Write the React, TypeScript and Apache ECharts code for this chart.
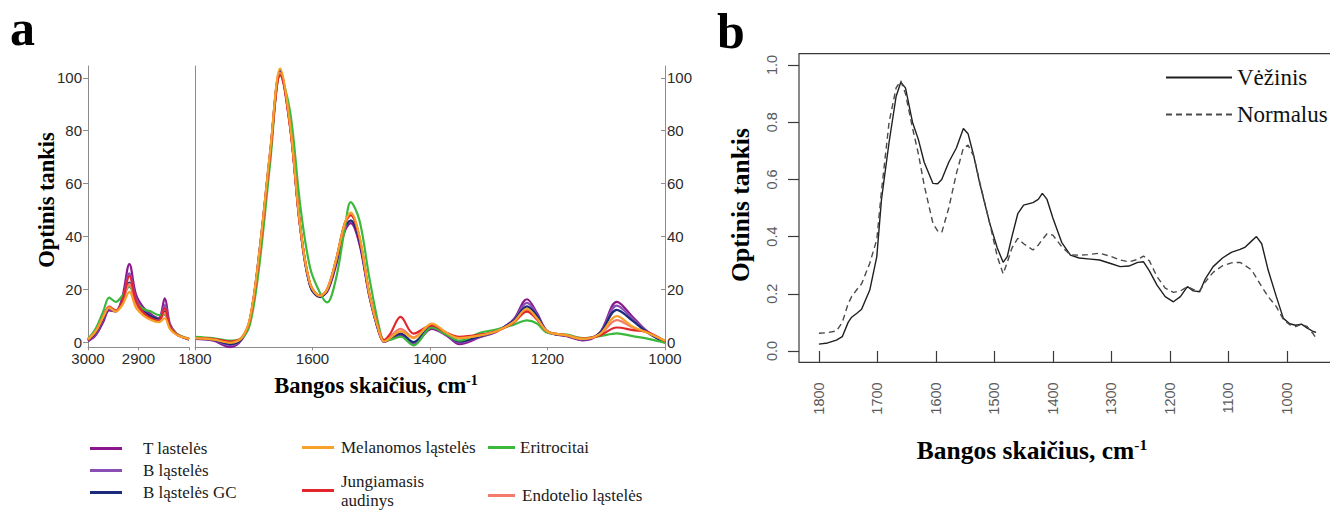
import React, { useEffect, useRef } from 'react';
import * as echarts from 'echarts';

// ---------- Panel a data ----------
const CH_WAVENUMBERS = [3000, 2985, 2970, 2958, 2945, 2932, 2918, 2905, 2890, 2875, 2860, 2848, 2838, 2825, 2812, 2800];
const FP_WAVENUMBERS = [1800, 1770, 1740, 1720, 1706, 1690, 1672, 1655, 1638, 1621, 1604, 1587, 1575, 1560, 1545, 1535, 1520, 1503, 1486, 1478, 1468, 1450, 1428, 1397, 1372, 1350, 1315, 1286, 1258, 1235, 1218, 1200, 1167, 1140, 1111, 1082, 1055, 1030, 1000];

const T_CH = [0.3, 2.5, 7.5, 12, 11.5, 17, 29.5, 18, 13, 10.5, 9, 16.5, 7, 3.2, 1.8, 1];
const B_CH = [0.5, 3, 8.5, 12.5, 11.8, 16, 26, 16.5, 12, 10, 8.8, 14, 6.5, 3, 1.8, 1];
const BGC_CH = [0.8, 3.5, 9, 13, 12, 15.5, 22.5, 15, 11.5, 9.8, 8.5, 11.5, 6, 3, 1.8, 1];
const MEL_CH = [1, 4, 9.5, 13, 11.5, 14, 19, 13, 10, 8.3, 7.5, 9, 5, 2.8, 1.8, 1.2];
const JUN_CH = [0.8, 3.8, 9.5, 13.2, 11.8, 15.5, 25, 15.5, 11, 9, 8, 12.8, 6, 3, 1.8, 1.2];
const END_CH = [0.9, 4, 9.5, 13.5, 12, 15, 22, 14.5, 10.8, 8.8, 8, 11, 5.5, 3, 1.8, 1.2];
const ERI_CH = [1.2, 5, 11.5, 16.8, 15.2, 17.5, 21, 15, 12.5, 11.5, 10.2, 10.3, 6, 3.2, 2, 1.3];

const T_FP = [1.2, 0.6, -1.9, 1.0, 8.5, 34, 71, 102, 82, 44, 21.5, 17.5, 19, 29, 42, 45, 37, 17, 3, 0, 1, 2.5, -0.8, 5, 2.5, -0.8, 1.8, 4, 8.5, 16.2, 11, 4, 2.2, 0.6, 3.5, 15.2, 9.5, 4, -0.3];
const B_FP = [1.3, 0.8, -1.2, 1.2, 8.8, 34.5, 71.5, 102.5, 82, 44, 21.5, 17.5, 19.5, 30, 43, 46, 38, 17.5, 3.2, 0.2, 1.2, 3, -0.3, 5.5, 2.8, -0.2, 2, 4.2, 8.3, 14.8, 10.5, 4, 2.3, 0.8, 3.5, 13.8, 8.8, 3.8, -0.2];
const BGC_FP = [1.4, 0.9, -0.8, 1.3, 9, 35, 72, 102.5, 81.5, 43.5, 21, 17, 19.5, 30, 43.5, 46, 38, 17.5, 3.2, 0.3, 1.3, 3.2, 0, 5.8, 3, 0.2, 2.2, 4.3, 8, 13.5, 10, 3.9, 2.4, 1, 3.4, 12.2, 8, 3.6, -0.1];
const MEL_FP = [1.5, 1.0, -0.3, 1.8, 9.5, 35, 72.5, 103.5, 82, 44, 22, 17.5, 20, 31, 45, 49, 40, 18, 3.5, 0.2, 1.5, 4, 1.5, 7, 3.5, 1.5, 2.5, 4.2, 7.5, 12.6, 9, 4, 2.5, 1.2, 3, 9.8, 5.8, 3.5, 0.5];
const JUN_FP = [1.5, 1.2, 0.2, 1.8, 9, 34, 71, 101, 81, 43.5, 22, 17.5, 20, 31, 45, 48, 39.5, 18, 3.8, 0.8, 3, 9.5, 3.2, 6.3, 3.5, 2, 2.8, 4.2, 7.3, 11.5, 8.5, 4, 2.5, 1.3, 2.5, 5.5, 4.5, 3.8, 0.3];
const END_FP = [1.5, 1.1, 0, 1.8, 9.2, 34.5, 72, 102, 81.5, 44, 22, 17.5, 20, 31, 45, 48, 39.5, 18, 3.6, 0.4, 2, 5, 1.8, 6.5, 3.5, 1.5, 2.6, 4.2, 7.4, 12, 8.8, 4, 2.5, 1.2, 2.8, 8.3, 5.5, 3.6, 0.4];
const ERI_FP = [2, 1.5, 0.5, 1.5, 7, 30, 68, 101, 87, 52, 28, 18.5, 15, 24, 43, 53, 46, 24, 5, 0.5, 0.8, 2, -1.3, 5.5, 2.8, 0.5, 3.5, 4.8, 6.5, 8.2, 7, 3.5, 2.8, 1.5, 2.2, 3.3, 2.2, 1.3, -0.3];

const A_NAMES = ['T lastelės', 'B ląstelės', 'B ląstelės GC', 'Melanomos ląstelės', 'Jungiamasis audinys', 'Eritrocitai', 'Endotelio ląstelės'];
const A_CH_DATA = [T_CH, B_CH, BGC_CH, MEL_CH, JUN_CH, ERI_CH, END_CH];
const A_FP_DATA = [T_FP, B_FP, BGC_FP, MEL_FP, JUN_FP, ERI_FP, END_FP];
const A_DRAW_ORDER = [0, 1, 2, 5, 6, 4, 3];

const A_Y_TICKS = [0, 20, 40, 60, 80, 100];
const A_CH_TICKS = [3000, 2900, 2800];
const A_CH_LABELS = [3000, 2900];
const A_FP_TICKS = [1800, 1600, 1400, 1200, 1000];

// ---------- Panel b data ----------
const B_WAVENUMBERS = [1800, 1785, 1770, 1760, 1750, 1744, 1735, 1727, 1713, 1701, 1693, 1680, 1668, 1660, 1652, 1640, 1630, 1620, 1605, 1597, 1590, 1578, 1565, 1553, 1545, 1535, 1525, 1508, 1495, 1485, 1478, 1470, 1460, 1450, 1434, 1425, 1418, 1410, 1400, 1385, 1370, 1355, 1340, 1320, 1300, 1285, 1270, 1255, 1245, 1235, 1222, 1208, 1194, 1182, 1170, 1160, 1149, 1140, 1126, 1110, 1095, 1080, 1072, 1060, 1052, 1043, 1032, 1018, 1006, 995, 985, 975, 965, 955, 950];
const VEZINIS = [0.024, 0.028, 0.038, 0.05, 0.10, 0.118, 0.132, 0.146, 0.213, 0.33, 0.53, 0.73, 0.89, 0.94, 0.92, 0.80, 0.74, 0.66, 0.586, 0.585, 0.60, 0.66, 0.71, 0.778, 0.76, 0.68, 0.586, 0.447, 0.36, 0.31, 0.33, 0.40, 0.48, 0.51, 0.519, 0.53, 0.551, 0.53, 0.465, 0.38, 0.335, 0.325, 0.322, 0.318, 0.305, 0.295, 0.297, 0.31, 0.312, 0.28, 0.23, 0.19, 0.172, 0.19, 0.225, 0.21, 0.207, 0.25, 0.295, 0.325, 0.345, 0.355, 0.362, 0.385, 0.40, 0.375, 0.283, 0.19, 0.114, 0.095, 0.09, 0.094, 0.08, 0.068, 0.065];
const NORMALUS = [0.062, 0.064, 0.07, 0.10, 0.165, 0.19, 0.215, 0.235, 0.307, 0.39, 0.56, 0.80, 0.92, 0.945, 0.90, 0.78, 0.69, 0.58, 0.446, 0.42, 0.414, 0.50, 0.62, 0.71, 0.72, 0.68, 0.59, 0.447, 0.33, 0.27, 0.31, 0.36, 0.394, 0.375, 0.353, 0.37, 0.39, 0.41, 0.405, 0.365, 0.336, 0.335, 0.337, 0.342, 0.33, 0.318, 0.312, 0.32, 0.332, 0.315, 0.26, 0.22, 0.205, 0.21, 0.225, 0.215, 0.21, 0.24, 0.275, 0.298, 0.308, 0.31, 0.30, 0.283, 0.255, 0.225, 0.19, 0.155, 0.11, 0.092, 0.085, 0.094, 0.085, 0.06, 0.045];
const B_X_TICKS = [1800, 1700, 1600, 1500, 1400, 1300, 1200, 1100, 1000];
const B_Y_TICKS = [0, 0.2, 0.4, 0.6, 0.8, 1.0];

// ---------- Styles ----------
const A_COLORS = ['#8B178F', '#8A4FB5', '#1B2A7A', '#F5A12A', '#E3262B', '#3CB93C', '#F47B6E'];
const SANS = 'Liberation Sans, Arial, sans-serif';
const SERIF = 'Liberation Serif, Times New Roman, serif';
const A_AXIS = '#8c8c8c';

const zip = (xs: number[], ys: number[]) => xs.map((x, i) => [x, ys[i]]);
const plain = (v: number) => String(v);

function xTitle(x: number, y: number, size: number, supSize: number) {
  return {
    type: 'text', x, y,
    style: {
      text: '{t|Bangos skaičius, cm}{s|-1}', align: 'center', verticalAlign: 'middle',
      rich: {
        t: { fontFamily: SERIF, fontWeight: 'bold', fontSize: size, fill: '#000', color: '#000', lineHeight: size + 1 },
        s: { fontFamily: SERIF, fontWeight: 'bold', fontSize: supSize, fill: '#000', color: '#000', verticalAlign: 'top', lineHeight: size + 1 },
      },
    },
  };
}

function yTitle(x: number, y: number, size: number) {
  return {
    type: 'text', x, y, rotation: Math.PI / 2,
    style: { text: 'Optinis tankis', fontFamily: SERIF, fontWeight: 'bold', fontSize: size, fill: '#000', align: 'center', verticalAlign: 'middle' },
  };
}

function buildOption() {
  const aSeries: any[] = [];
  A_DRAW_ORDER.forEach((i) => {
    const common = {
      type: 'line',
      name: A_NAMES[i],
      color: A_COLORS[i],
      showSymbol: false,
      symbol: 'none',
      smooth: 0.35,
      lineStyle: { width: 2.2, color: A_COLORS[i] },
      silent: true,
    };
    aSeries.push({ ...common, xAxisIndex: 0, yAxisIndex: 0, data: zip(CH_WAVENUMBERS, A_CH_DATA[i]) });
    aSeries.push({ ...common, xAxisIndex: 1, yAxisIndex: 1, data: zip(FP_WAVENUMBERS, A_FP_DATA[i]) });
  });

  const aYBase = {
    type: 'value', min: -2, max: 104.5, splitLine: { show: false },
    axisLine: { show: true, lineStyle: { color: A_AXIS, width: 1 } },
  };
  const aLabel = { fontFamily: SANS, fontSize: 15, color: '#2a2a2a', formatter: plain };

  const legendText = { fontFamily: SERIF, fontSize: 17, color: '#1a1a1a', lineHeight: 17 };
  const legendCommon = {
    orient: 'vertical', padding: 0, icon: 'rect', itemHeight: 3, itemWidth: 32,
    itemStyle: { borderWidth: 0 }, selectedMode: false,
  };

  return {
    animation: false,
    backgroundColor: '#ffffff',
    grid: [
      { left: 88, top: 66, width: 101, height: 281.3, outerBoundsMode: 'none' },
      { left: 195, top: 66, width: 470, height: 281.3, outerBoundsMode: 'none' },
      { left: 799, top: 53.6, width: 537, height: 308.8, outerBoundsMode: 'none', show: true, borderColor: '#3a3a3a', borderWidth: 1.2, backgroundColor: 'transparent' },
    ],
    xAxis: [
      {
        type: 'value', gridIndex: 0, min: 2800, max: 3000, inverse: true, position: 'bottom',
        axisLine: { show: true, onZero: false, lineStyle: { color: A_AXIS } },
        axisTick: { show: true, length: 3, customValues: A_CH_TICKS, lineStyle: { color: A_AXIS } },
        axisLabel: { ...aLabel, margin: 4, customValues: A_CH_LABELS },
        splitLine: { show: false },
      },
      {
        type: 'value', gridIndex: 1, min: 1000, max: 1800, inverse: true, position: 'bottom',
        axisLine: { show: true, onZero: false, lineStyle: { color: A_AXIS } },
        axisTick: { show: true, length: 3, customValues: A_FP_TICKS, lineStyle: { color: A_AXIS } },
        axisLabel: { ...aLabel, margin: 4, customValues: A_FP_TICKS },
        splitLine: { show: false },
      },
      {
        type: 'value', gridIndex: 2, min: 916, max: 1834, inverse: true, position: 'bottom',
        axisLine: { show: false },
        axisTick: { show: true, length: 11, customValues: B_X_TICKS, lineStyle: { color: '#3a3a3a', width: 1.2 } },
        axisLabel: { fontFamily: SANS, fontSize: 14.5, color: '#5a5a5a', rotate: 90, margin: 20, customValues: B_X_TICKS, formatter: plain },
        splitLine: { show: false },
      },
    ],
    yAxis: [
      {
        ...aYBase, gridIndex: 0, position: 'left',
        axisTick: { show: true, length: 5, customValues: A_Y_TICKS, lineStyle: { color: A_AXIS } },
        axisLabel: { ...aLabel, margin: 6, customValues: A_Y_TICKS },
      },
      {
        ...aYBase, gridIndex: 1, position: 'left',
        axisTick: { show: false }, axisLabel: { show: false },
      },
      {
        ...aYBase, gridIndex: 1, position: 'right',
        axisTick: { show: true, inside: true, length: 4, customValues: A_Y_TICKS, lineStyle: { color: A_AXIS } },
        axisLabel: { ...aLabel, margin: 2, customValues: A_Y_TICKS },
      },
      {
        type: 'value', gridIndex: 2, min: -0.04, max: 1.04, position: 'left',
        axisLine: { show: false }, splitLine: { show: false },
        axisTick: { show: true, length: 11, customValues: B_Y_TICKS, lineStyle: { color: '#3a3a3a', width: 1.2 } },
        axisLabel: {
          fontFamily: SANS, fontSize: 14.5, color: '#5a5a5a', rotate: 90, margin: 20, customValues: B_Y_TICKS,
          formatter: (v: number) => v.toFixed(1),
        },
      },
    ],
    legend: [
      { ...legendCommon, left: 90, top: 440, itemGap: 5, data: [A_NAMES[0], A_NAMES[1], A_NAMES[2]], textStyle: { ...legendText, padding: [0, 0, 0, 16] } },
      { ...legendCommon, left: 302, top: 439, data: [A_NAMES[3]], textStyle: { ...legendText, padding: [0, 0, 0, 2] } },
      {
        ...legendCommon, left: 302, top: 466, data: [A_NAMES[4]],
        formatter: () => 'Jungiamasis\naudinys',
        textStyle: { ...legendText, lineHeight: 19, padding: [11, 0, 0, 2] },
      },
      { ...legendCommon, left: 488, top: 439, itemWidth: 27, data: [A_NAMES[5]], textStyle: { ...legendText, padding: [0, 0, 0, 0] } },
      { ...legendCommon, left: 488, top: 487, itemWidth: 27, data: [A_NAMES[6]], textStyle: { ...legendText, padding: [0, 0, 0, 2] } },
      {
        orient: 'vertical', padding: 0, left: 1165, top: 66, itemWidth: 66, itemHeight: 23, itemGap: 14,
        selectedMode: false, data: ['Vėžinis', 'Normalus'],
        itemStyle: { color: 'transparent', borderColor: 'transparent', borderWidth: 0, opacity: 0 },
        textStyle: { fontFamily: SERIF, fontSize: 23, lineHeight: 23, color: '#111' },
      },
    ],
    graphic: [
      { type: 'text', x: 10, y: 28, style: { text: 'a', fontFamily: SERIF, fontWeight: 'bold', fontSize: 50, fill: '#000', align: 'left', verticalAlign: 'middle' } },
      { type: 'text', x: 717, y: 31, style: { text: 'b', fontFamily: SERIF, fontWeight: 'bold', fontSize: 50, fill: '#000', align: 'left', verticalAlign: 'middle' } },
      yTitle(46, 200, 22.5),
      yTitle(740, 205, 25.5),
      xTitle(376, 385, 22.5, 14),
      xTitle(1032, 450, 25.5, 15.5),
    ],
    series: [
      ...aSeries,
      {
        type: 'line', name: 'Vėžinis', xAxisIndex: 2, yAxisIndex: 3, color: '#1f1f1f',
        showSymbol: false, symbol: 'none', smooth: false, silent: true,
        lineStyle: { width: 1.4, color: '#1f1f1f', type: 'solid' },
        data: zip(B_WAVENUMBERS, VEZINIS),
      },
      {
        type: 'line', name: 'Normalus', xAxisIndex: 2, yAxisIndex: 3, color: '#4a4a4a',
        showSymbol: false, symbol: 'none', smooth: false, silent: true,
        lineStyle: { width: 1.4, color: '#4a4a4a', type: [6, 4] },
        data: zip(B_WAVENUMBERS, NORMALUS),
      },
    ],
  };
}

export default function App() {
  const ref = useRef<HTMLDivElement>(null);
  useEffect(() => {
    if (!ref.current) return;
    const chart = echarts.init(ref.current, undefined, { renderer: 'svg' });
    chart.setOption(buildOption() as any);
    return () => chart.dispose();
  }, []);
  return (
    <div
      ref={ref}
      style={{ position: 'absolute', left: 0, top: 0, width: 1330, height: 522, background: '#fff' }}
    />
  );
}
